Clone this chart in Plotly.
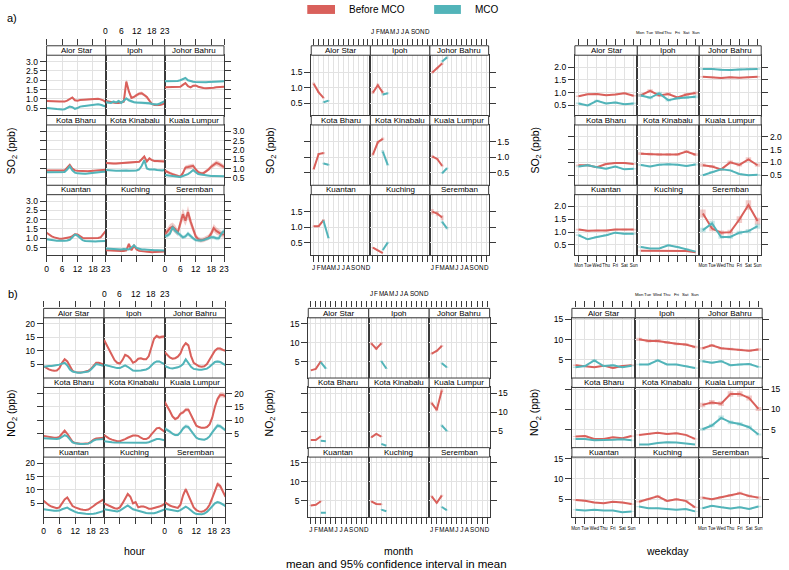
import plotly.graph_objects as go

W, H = 789, 570
RED = "#D9605B"
TEAL = "#52B4B9"
RED_BAND = "rgba(217,96,91,0.32)"
TEAL_BAND = "rgba(82,180,185,0.32)"
FONT = "Liberation Sans, Arial, sans-serif"

CITIES = ["Alor Star", "Ipoh", "Johor Bahru", "Kota Bharu", "Kota Kinabalu",
          "Kuala Lumpur", "Kuantan", "Kuching", "Seremban"]
SERIES = ["Before MCO", "MCO"]
HOURS = list(range(24))
HOUR_TICKS = [0, 6, 12, 18, 23]
MONTHS = list(range(1, 13))
MONTH_LABELS = ["J", "F", "M", "A", "M", "J", "J", "A", "S", "O", "N", "D"]
BEFORE_MONTHS = [1, 2, 3]
MCO_MONTHS = [3, 4]
DAYS = list(range(1, 8))
DAY_LABELS = ["Mon", "Tue", "Wed", "Thu", "Fri", "Sat", "Sun"]

SO2_TICKS_HOUR = [0.5, 1.0, 1.5, 2.0, 2.5, 3.0]
SO2_TICKS_MONTH = [0.5, 1.0, 1.5]
SO2_TICKS_WEEK = [0.5, 1.0, 1.5, 2.0]
NO2_TICKS_HOUR = [5, 10, 15, 20]
NO2_TICKS_OTHER = [5, 10, 15]

# ---------------- SO2 by hour ----------------
SO2_HOUR_BEFORE = {
    "Alor Star": [0.88,0.87,0.87,0.86,0.86,0.86,0.86,0.85,0.9,1.0,1.07,0.92,0.9,0.93,0.94,0.95,0.96,0.96,0.97,0.99,1.0,0.97,0.92,0.82],
    "Ipoh": [0.88,0.85,0.82,0.80,0.78,0.78,0.8,0.85,1.93,1.4,1.05,1.1,1.2,1.28,1.3,1.22,1.1,0.9,0.72,0.66,0.65,0.66,0.7,0.76],
    "Johor Bahru": [1.62,1.62,1.62,1.61,1.61,1.62,1.65,1.75,1.85,1.68,1.62,1.70,1.72,1.65,1.60,1.58,1.57,1.57,1.58,1.60,1.62,1.63,1.64,1.65],
    "Kota Bharu": [0.9,0.9,0.89,0.88,0.88,0.88,0.88,0.9,1.05,1.2,1.0,0.9,0.88,0.87,0.86,0.86,0.86,0.87,0.88,0.89,0.9,0.9,0.92,0.93],
    "Kota Kinabalu": [1.3,1.28,1.28,1.27,1.27,1.28,1.28,1.3,1.3,1.3,1.32,1.33,1.35,1.36,1.5,1.65,1.38,1.55,1.45,1.4,1.4,1.4,1.38,1.38],
    "Kuala Lumpur": [0.88,0.8,0.75,0.7,0.65,0.6,0.56,0.75,1.05,1.08,1.1,1.15,0.95,0.8,0.75,0.75,0.85,0.95,1.1,1.2,1.3,1.25,1.15,1.08],
    "Kuantan": [1.3,1.2,1.1,1.05,1.0,0.98,0.98,1.0,1.02,1.05,1.12,1.22,1.2,1.1,1.02,1.0,1.0,1.0,1.0,1.0,1.02,1.05,1.2,1.4],
    "Kuching": [0.35,0.34,0.33,0.32,0.32,0.31,0.31,0.32,0.35,0.7,0.35,0.6,0.4,0.32,0.3,0.28,0.26,0.25,0.25,0.26,0.27,0.28,0.28,0.29],
    "Seremban": [1.2,1.35,1.55,1.62,1.5,1.3,1.75,2.3,1.95,2.42,1.9,1.45,1.1,0.95,0.9,0.92,0.98,1.05,1.25,1.55,1.4,1.3,1.22,1.2],
}
SO2_HOUR_MCO = {
    "Alor Star": [0.50,0.50,0.49,0.47,0.45,0.43,0.42,0.44,0.50,0.58,0.55,0.46,0.50,0.58,0.60,0.62,0.64,0.66,0.67,0.70,0.70,0.68,0.63,0.58],
    "Ipoh": [0.82,0.8,0.78,0.85,0.8,0.88,0.78,0.9,1.02,0.92,0.85,0.82,0.8,0.8,0.8,0.79,0.78,0.76,0.72,0.7,0.7,0.74,0.8,0.88],
    "Johor Bahru": [1.95,1.95,1.94,1.94,1.95,1.96,2.0,2.08,2.12,2.0,1.95,1.92,1.9,1.89,1.88,1.88,1.89,1.9,1.91,1.92,1.93,1.94,1.95,1.95],
    "Kota Bharu": [0.8,0.8,0.79,0.78,0.78,0.78,0.78,0.82,0.95,1.12,0.9,0.78,0.74,0.72,0.72,0.72,0.73,0.75,0.78,0.8,0.81,0.82,0.83,0.83],
    "Kota Kinabalu": [0.92,0.9,0.88,0.88,0.88,0.88,0.9,0.9,0.9,0.88,0.88,0.88,0.9,0.95,1.15,1.45,1.0,0.95,0.96,0.95,0.92,0.9,0.9,0.92],
    "Kuala Lumpur": [0.65,0.63,0.6,0.58,0.57,0.55,0.55,0.6,0.65,0.7,0.8,0.92,0.8,0.7,0.68,0.65,0.62,0.6,0.6,0.6,0.6,0.58,0.58,0.58],
    "Kuantan": [0.95,0.92,0.9,0.88,0.87,0.86,0.85,0.86,0.88,0.92,1.05,1.2,1.15,1.0,0.9,0.85,0.84,0.83,0.83,0.83,0.84,0.84,0.85,0.85],
    "Kuching": [0.45,0.44,0.43,0.42,0.4,0.4,0.4,0.42,0.42,0.4,0.5,0.62,0.48,0.42,0.4,0.4,0.38,0.36,0.35,0.35,0.35,0.35,0.34,0.34],
    "Seremban": [1.12,1.15,1.25,1.6,1.4,1.3,1.18,1.05,1.1,1.25,1.1,1.0,0.9,0.88,0.88,0.9,0.95,1.0,1.05,1.05,1.0,1.0,1.25,1.4],
}
SO2_HOUR_CI = {  # relative half-width of the 95% CI (before, MCO)
    "Alor Star": (0.04, 0.05), "Ipoh": (0.07, 0.08), "Johor Bahru": (0.02, 0.02),
    "Kota Bharu": (0.04, 0.05), "Kota Kinabalu": (0.04, 0.05), "Kuala Lumpur": (0.11, 0.06),
    "Kuantan": (0.03, 0.04), "Kuching": (0.08, 0.08), "Seremban": (0.14, 0.10),
}

# ---------------- SO2 by month ----------------
SO2_MONTH_BEFORE = {
    "Alor Star": [1.13, 0.85, 0.67], "Ipoh": [0.84, 1.08, 0.84], "Johor Bahru": [1.49, 1.63, 1.78],
    "Kota Bharu": [0.62, 1.11, 1.14], "Kota Kinabalu": [1.09, 1.49, 1.60], "Kuala Lumpur": [1.03, 0.95, 0.73],
    "Kuantan": [1.03, 1.03, 1.23], "Kuching": [0.34, 0.25, 0.16], "Seremban": [1.50, 1.44, 1.31],
}
SO2_MONTH_MCO = {
    "Alor Star": [0.53, 0.58], "Ipoh": [0.78, 0.82], "Johor Bahru": [1.85, 1.98],
    "Kota Bharu": [0.80, 0.76], "Kota Kinabalu": [1.19, 0.76], "Kuala Lumpur": [0.49, 0.65],
    "Kuantan": [1.20, 0.65], "Kuching": [0.26, 0.50], "Seremban": [1.17, 0.96],
}
SO2_MONTH_CI = {
    "Alor Star": (0.03, 0.04), "Ipoh": (0.05, 0.04), "Johor Bahru": (0.02, 0.02),
    "Kota Bharu": (0.03, 0.03), "Kota Kinabalu": (0.03, 0.04), "Kuala Lumpur": (0.04, 0.04),
    "Kuantan": (0.02, 0.03), "Kuching": (0.05, 0.06), "Seremban": (0.06, 0.04),
}

# ---------------- SO2 by weekday ----------------
SO2_WEEK_BEFORE = {
    "Alor Star": [0.86, 0.94, 0.95, 0.90, 0.93, 0.98, 0.88],
    "Ipoh": [0.90, 1.07, 0.89, 0.95, 0.81, 0.93, 0.99],
    "Johor Bahru": [1.62, 1.60, 1.57, 1.60, 1.58, 1.60, 1.62],
    "Kota Bharu": [0.89, 0.89, 0.81, 0.94, 0.98, 0.98, 0.94],
    "Kota Kinabalu": [1.34, 1.32, 1.31, 1.31, 1.31, 1.42, 1.30],
    "Kuala Lumpur": [0.89, 0.84, 0.73, 1.00, 0.90, 1.12, 0.89],
    "Kuantan": [1.10, 1.05, 1.06, 1.06, 1.10, 1.10, 1.10],
    "Kuching": [0.27, 0.27, 0.28, 0.28, 0.27, 0.26, 0.22],
    "Seremban": [1.73, 1.14, 0.98, 1.00, 1.49, 2.06, 1.43],
}
SO2_WEEK_MCO = {
    "Alor Star": [0.58, 0.50, 0.68, 0.58, 0.62, 0.55, 0.58],
    "Ipoh": [0.89, 0.80, 0.97, 0.71, 0.78, 0.81, 0.84],
    "Johor Bahru": [1.92, 1.92, 1.89, 1.88, 1.90, 1.92, 1.92],
    "Kota Bharu": [0.84, 0.89, 0.81, 0.75, 0.84, 0.73, 0.75],
    "Kota Kinabalu": [0.90, 0.84, 0.91, 0.93, 0.91, 0.86, 0.92],
    "Kuala Lumpur": [0.50, 0.63, 0.73, 0.69, 0.55, 0.50, 0.52],
    "Kuantan": [0.88, 0.72, 0.81, 0.88, 0.98, 0.94, 0.94],
    "Kuching": [0.42, 0.36, 0.36, 0.49, 0.42, 0.34, 0.24],
    "Seremban": [1.08, 1.34, 0.81, 0.81, 0.98, 1.04, 1.23],
}
SO2_WEEK_CI = {
    "Alor Star": (0.03, 0.06), "Ipoh": (0.06, 0.07), "Johor Bahru": (0.02, 0.02),
    "Kota Bharu": (0.03, 0.04), "Kota Kinabalu": (0.04, 0.04), "Kuala Lumpur": (0.07, 0.05),
    "Kuantan": (0.03, 0.04), "Kuching": (0.06, 0.06), "Seremban": (0.09, 0.08),
}

# ---------------- NO2 by hour ----------------
NO2_HOUR_BEFORE = {
    "Alor Star": [4.2,3.5,3.0,2.7,2.5,2.6,3.5,5.5,6.8,6.0,4.0,2.5,2.0,1.9,1.9,2.0,2.2,2.5,3.2,4.5,5.5,5.5,5.0,4.8],
    "Ipoh": [14.0,12.0,10.0,8.0,6.5,5.5,5.2,6.5,8.5,8.0,7.0,5.5,6.0,7.0,7.2,6.8,6.8,8.0,11.0,14.5,15.5,15.0,15.2,15.3],
    "Johor Bahru": [9.5,8.5,7.5,7.0,7.2,7.8,9.0,11.5,12.8,12.0,8.0,5.5,4.8,4.2,4.0,4.2,5.0,6.5,8.5,10.0,10.8,10.8,10.3,10.0],
    "Kota Bharu": [4.2,4.0,3.8,3.6,3.5,3.5,3.8,5.0,6.2,5.0,3.5,2.0,1.5,1.3,1.3,1.3,1.3,1.4,2.0,2.8,3.2,3.3,3.4,3.5],
    "Kota Kinabalu": [4.5,3.8,3.2,2.8,2.4,2.2,2.2,2.5,3.0,3.5,4.0,4.3,4.3,4.2,3.5,3.0,3.0,3.5,4.8,6.0,7.0,7.2,6.5,5.8],
    "Kuala Lumpur": [17.0,15.5,13.5,11.5,10.5,11.0,12.5,13.0,14.0,14.0,12.0,9.5,8.0,7.5,7.2,7.2,7.5,8.5,11.0,15.0,18.0,19.5,19.5,19.0],
    "Kuantan": [6.0,5.0,4.3,3.8,3.5,3.2,3.5,5.0,6.5,7.2,5.5,4.0,3.5,3.0,2.8,2.6,2.5,2.7,3.2,4.0,4.8,5.5,6.0,6.6],
    "Kuching": [5.0,4.5,4.0,3.5,3.2,3.0,3.5,5.0,7.0,8.5,7.5,5.0,5.5,3.5,3.8,3.8,3.5,3.0,3.0,3.2,3.5,3.8,4.2,4.8],
    "Seremban": [5.5,4.8,4.2,3.8,3.5,3.3,4.5,8.0,10.3,8.0,5.5,3.5,2.5,2.0,1.9,2.2,3.0,4.5,7.0,10.0,12.2,11.5,9.5,7.5],
}
NO2_HOUR_MCO = {
    "Alor Star": [4.0,4.2,4.3,4.3,4.4,4.5,4.8,5.2,5.5,4.5,3.0,2.2,1.9,1.8,1.8,1.9,2.0,2.2,3.0,4.2,5.0,4.8,4.5,4.3],
    "Ipoh": [4.8,4.5,4.2,4.0,3.7,3.5,3.5,4.0,4.5,4.0,3.2,2.6,2.5,2.5,2.6,2.8,3.0,3.5,4.5,5.5,6.0,6.0,5.5,5.0],
    "Johor Bahru": [4.3,3.8,3.5,3.4,3.5,3.8,4.2,5.0,6.8,5.5,4.0,3.2,3.0,2.9,2.9,3.0,3.3,4.0,5.0,5.8,6.0,5.8,5.2,4.6],
    "Kota Bharu": [3.3,3.2,3.1,3.0,3.0,3.0,3.2,3.8,4.5,4.0,3.0,1.8,1.4,1.2,1.2,1.2,1.2,1.3,1.8,2.5,2.8,2.9,3.0,3.0],
    "Kota Kinabalu": [2.2,2.0,1.9,1.8,1.7,1.7,1.7,1.7,1.7,1.7,1.7,1.6,1.6,1.5,1.5,1.5,1.6,1.8,2.3,2.8,3.0,3.0,2.8,2.6],
    "Kuala Lumpur": [7.0,6.5,5.8,5.0,4.5,4.5,5.5,7.0,7.8,7.5,6.0,4.5,3.5,3.0,2.8,2.8,3.2,4.0,5.5,7.0,8.0,7.8,7.0,6.3],
    "Kuantan": [2.8,2.6,2.4,2.3,2.2,2.2,2.3,2.8,3.2,3.4,2.8,2.2,1.8,1.5,1.3,1.2,1.1,1.0,1.0,1.1,1.3,1.6,1.9,2.2],
    "Kuching": [2.8,2.6,2.4,2.2,2.0,2.0,2.3,3.0,3.8,4.2,3.5,2.8,2.5,2.2,2.0,1.6,1.4,1.3,1.2,1.3,1.6,2.0,2.4,2.7],
    "Seremban": [3.0,2.8,2.5,2.3,2.2,2.1,2.5,3.3,3.8,3.2,2.3,1.5,1.0,0.9,0.9,1.2,1.8,2.8,4.0,5.0,5.5,5.2,4.6,4.0],
}
NO2_HOUR_CI = {
    "Alor Star": (0.06, 0.06), "Ipoh": (0.04, 0.06), "Johor Bahru": (0.04, 0.08),
    "Kota Bharu": (0.05, 0.05), "Kota Kinabalu": (0.05, 0.05), "Kuala Lumpur": (0.05, 0.10),
    "Kuantan": (0.04, 0.05), "Kuching": (0.07, 0.06), "Seremban": (0.07, 0.08),
}

# ---------------- NO2 by month ----------------
NO2_MONTH_BEFORE = {
    "Alor Star": [2.7, 3.1, 5.1], "Ipoh": [9.8, 8.4, 9.8], "Johor Bahru": [7.1, 7.8, 9.1],
    "Kota Bharu": [2.7, 2.7, 3.7], "Kota Kinabalu": [3.4, 4.3, 3.6], "Kuala Lumpur": [12.4, 10.6, 15.7],
    "Kuantan": [3.8, 4.0, 4.9], "Kuching": [4.9, 4.2, 4.1], "Seremban": [6.2, 4.5, 6.4],
}
NO2_MONTH_MCO = {
    "Alor Star": [4.8, 3.2], "Ipoh": [5.1, 3.2], "Johor Bahru": [4.6, 3.5],
    "Kota Bharu": [2.5, 2.4], "Kota Kinabalu": [1.7, 1.2], "Kuala Lumpur": [6.5, 5.1],
    "Kuantan": [1.9, 1.9], "Kuching": [2.7, 2.3], "Seremban": [3.4, 2.6],
}
NO2_MONTH_CI = {c: (0.03, 0.04) for c in CITIES}

# ---------------- NO2 by weekday ----------------
NO2_WEEK_BEFORE = {
    "Alor Star": [3.7, 3.5, 3.2, 3.6, 3.0, 3.5, 3.7],
    "Ipoh": [10.1, 9.7, 9.7, 9.3, 9.0, 8.8, 8.2],
    "Johor Bahru": [7.9, 8.6, 7.9, 7.7, 7.5, 7.3, 7.6],
    "Kota Bharu": [3.3, 3.4, 2.7, 2.7, 3.1, 2.9, 3.4],
    "Kota Kinabalu": [3.7, 3.9, 4.2, 3.9, 4.1, 3.7, 2.7],
    "Kuala Lumpur": [11.1, 11.7, 11.4, 13.8, 13.8, 12.8, 10.1],
    "Kuantan": [4.8, 4.6, 4.2, 4.0, 4.4, 4.2, 3.8],
    "Kuching": [4.4, 5.0, 5.7, 4.6, 5.0, 4.6, 3.0],
    "Seremban": [5.4, 5.0, 5.5, 6.0, 6.5, 5.8, 5.4],
}
NO2_WEEK_MCO = {
    "Alor Star": [3.2, 3.5, 4.9, 3.5, 3.7, 3.2, 3.6],
    "Ipoh": [3.9, 3.9, 4.9, 3.9, 3.9, 3.5, 3.0],
    "Johor Bahru": [4.7, 4.3, 4.7, 3.7, 3.9, 4.0, 3.3],
    "Kota Bharu": [2.7, 2.7, 2.4, 2.4, 2.5, 2.6, 2.4],
    "Kota Kinabalu": [1.3, 1.3, 1.7, 1.9, 1.8, 1.5, 1.3],
    "Kuala Lumpur": [5.1, 6.0, 7.9, 6.8, 6.4, 5.6, 3.8],
    "Kuantan": [2.4, 2.2, 2.4, 2.2, 2.2, 1.8, 2.0],
    "Kuching": [3.2, 2.8, 2.8, 2.6, 2.4, 2.6, 2.0],
    "Seremban": [2.8, 3.4, 3.0, 2.7, 3.0, 2.6, 3.2],
}
NO2_WEEK_CI = {
    "Alor Star": (0.05, 0.06), "Ipoh": (0.04, 0.05), "Johor Bahru": (0.04, 0.06),
    "Kota Bharu": (0.04, 0.04), "Kota Kinabalu": (0.04, 0.05), "Kuala Lumpur": (0.05, 0.07),
    "Kuantan": (0.04, 0.05), "Kuching": (0.05, 0.05), "Seremban": (0.05, 0.06),
}

SO2_TITLE = "SO<sub>2</sub> (ppb)"
NO2_TITLE = "NO<sub>2</sub> (ppb)"

GROUPS = [
    dict(kind="hour", before=SO2_HOUR_BEFORE, mco=SO2_HOUR_MCO, ci=SO2_HOUR_CI,
         yrange=[0.1, 3.35], yticks=SO2_TICKS_HOUR, fmt="{:.1f}",
         edges=[45, 104.7, 164.3, 224], top=43, step=70.1, ytitle=SO2_TITLE, ytx=10),
    dict(kind="month", before=SO2_MONTH_BEFORE, mco=SO2_MONTH_MCO, ci=SO2_MONTH_CI,
         yrange=[0.1, 2.05], yticks=SO2_TICKS_MONTH, fmt="{:.1f}",
         edges=[312, 371.7, 431.7, 491], top=43, step=70.1, ytitle=SO2_TITLE, ytx=272),
    dict(kind="week", before=SO2_WEEK_BEFORE, mco=SO2_WEEK_MCO, ci=SO2_WEEK_CI,
         yrange=[0.11, 2.46], yticks=SO2_TICKS_WEEK, fmt="{:.1f}",
         edges=[578, 641, 703.5, 766], top=43, step=70.1, ytitle=SO2_TITLE, ytx=539),
    dict(kind="hour", before=NO2_HOUR_BEFORE, mco=NO2_HOUR_MCO, ci=NO2_HOUR_CI,
         yrange=[-0.2, 22.3], yticks=NO2_TICKS_HOUR, fmt="{:d}",
         edges=[42, 103, 164, 225.5], top=307, step=70.0, ytitle=NO2_TITLE, ytx=10),
    dict(kind="month", before=NO2_MONTH_BEFORE, mco=NO2_MONTH_MCO, ci=NO2_MONTH_CI,
         yrange=[0.7, 16.5], yticks=NO2_TICKS_OTHER, fmt="{:d}",
         edges=[309, 370, 431, 492], top=307, step=70.0, ytitle=NO2_TITLE, ytx=270),
    dict(kind="week", before=NO2_WEEK_BEFORE, mco=NO2_WEEK_MCO, ci=NO2_WEEK_CI,
         yrange=[0.55, 15.4], yticks=NO2_TICKS_OTHER, fmt="{:d}",
         edges=[575, 639, 703, 767], top=307, step=70.0, ytitle=NO2_TITLE, ytx=538),
]

STRIP_H = 9.5


def fx(px):
    return px / W


def fy(py):
    return 1 - py / H


def xaxis_spec(kind):
    # axis range/ticks, top label font, bottom label font, top label centre above strip
    if kind == "hour":
        return dict(range=[0, 23], tickvals=HOUR_TICKS, ticktext=[str(h) for h in HOUR_TICKS]), 8.5, 8.5, 14.7
    if kind == "month":
        return dict(range=[0.5, 12.5], tickvals=MONTHS, ticktext=MONTH_LABELS), 6.3, 6.3, 14.7
    return dict(range=[0.6, 7.4], tickvals=DAYS, ticktext=DAY_LABELS), 4.3, 4.5, 13.5


fig = go.Figure()
layout = dict(width=W, height=H, margin=dict(l=0, r=0, t=0, b=0), showlegend=False,
              paper_bgcolor="white", plot_bgcolor="white", font=dict(family=FONT, color="black"))
shapes, annots = [], []
GRID = "#E2E2E2"
LINE = "#3A3A3A"

n = 0
extra = 54
for grp in GROUPS:
    kind = grp["kind"]
    xspec, top_fs, bot_fs, lab_off = xaxis_spec(kind)
    edges = grp["edges"]
    for i, city in enumerate(CITIES):
        r, c = divmod(i, 3)
        n += 1
        sfx = "" if n == 1 else str(n)
        strip_top = grp["top"] + r * grp["step"]
        plot_top = strip_top + STRIP_H
        plot_bot = strip_top + grp["step"]
        x0, x1 = edges[c], edges[c + 1]

        layout["xaxis" + sfx] = dict(
            domain=[fx(x0), fx(x1)], anchor="y" + sfx, **xspec,
            showgrid=True, gridcolor=GRID, gridwidth=1, zeroline=False,
            showline=True, mirror=True, linecolor=LINE, linewidth=1,
            ticks="outside" if r == 2 else "", ticklen=6, tickcolor=LINE,
            showticklabels=(r == 2 and c != 1), tickangle=0,
            tickfont=dict(size=bot_fs, family=FONT, color="black"))
        layout["yaxis" + sfx] = dict(
            domain=[fy(plot_bot), fy(plot_top)], anchor="x" + sfx, range=grp["yrange"],
            tickvals=grp["yticks"], ticktext=[grp["fmt"].format(v) for v in grp["yticks"]],
            showgrid=True, gridcolor=GRID, gridwidth=1, zeroline=False,
            showline=True, mirror=True, linecolor=LINE, linewidth=1,
            side="right" if c == 2 else "left",
            ticks="" if c == 1 else "outside", ticklen=6, tickcolor=LINE,
            showticklabels=((c == 0 and r != 1) or (c == 2 and r == 1)),
            tickfont=dict(size=8.5, family=FONT, color="black"))

        if r == 0:
            # tick marks above the strip: helper subplot covering the strip
            extra += 1
            es = str(extra)
            layout["xaxis" + es] = dict(
                domain=[fx(x0), fx(x1)], anchor="y" + es, side="top",
                **xspec, showgrid=False, zeroline=False, showline=False,
                ticks="outside", ticklen=6, tickcolor=LINE, showticklabels=False)
            layout["yaxis" + es] = dict(domain=[fy(plot_top), fy(strip_top)], anchor="x" + es,
                                        range=[0, 1], visible=False, showgrid=False, zeroline=False)
            fig.add_trace(go.Scatter(x=[None], y=[None], xaxis="x" + es, yaxis="y" + es,
                                     mode="lines", hoverinfo="skip", showlegend=False))
            if c == 1:
                # top tick labels of the middle column, placed on that axis' scale
                for tv, tt in zip(xspec["tickvals"], xspec["ticktext"]):
                    annots.append(dict(text=tt, xref="x" + es, yref="paper", x=tv,
                                       y=fy(strip_top - lab_off), showarrow=False,
                                       xanchor="center", yanchor="middle",
                                       font=dict(size=top_fs, family=FONT, color="black")))

        # strip
        shapes.append(dict(type="rect", xref="paper", yref="paper", x0=fx(x0), x1=fx(x1),
                           y0=fy(plot_top), y1=fy(strip_top), fillcolor="white",
                           line=dict(color=LINE, width=1), layer="above"))
        annots.append(dict(text=city, xref="paper", yref="paper", x=fx((x0 + x1) / 2),
                           y=fy(strip_top + STRIP_H / 2), showarrow=False,
                           font=dict(size=8, family=FONT, color="black"),
                           xanchor="center", yanchor="middle"))

        xr, yr = "x" + sfx, "y" + sfx
        for s, (vals, col, band) in enumerate(((grp["before"][city], RED, RED_BAND),
                                               (grp["mco"][city], TEAL, TEAL_BAND))):
            frac = grp["ci"][city][s]
            if kind == "hour":
                xs = HOURS
            elif kind == "month":
                xs = BEFORE_MONTHS if s == 0 else MCO_MONTHS
            else:
                xs = DAYS
            up = [v * (1 + frac) for v in vals]
            lo = [v * (1 - frac) for v in vals]
            if kind == "hour":
                bx = list(xs) + list(xs)[::-1]
                by = up + lo[::-1]
            else:
                hw = 0.3
                bx, by = [], []
                for xv, u, l in zip(xs, up, lo):
                    bx += [xv - hw, xv + hw, xv + hw, xv - hw, xv - hw, None]
                    by += [l, l, u, u, l, None]
            fig.add_trace(go.Scatter(x=bx, y=by, xaxis=xr, yaxis=yr, mode="lines",
                                     fill="toself", fillcolor=band, line=dict(width=0),
                                     hoverinfo="skip", name=SERIES[s]))
            fig.add_trace(go.Scatter(x=xs, y=vals, xaxis=xr, yaxis=yr, mode="lines",
                                     line=dict(color=col, width=2), name=SERIES[s]))

    # y title
    mid = grp["top"] + 1.5 * grp["step"]
    annots.append(dict(text=grp["ytitle"], xref="paper", yref="paper", x=fx(grp["ytx"]),
                       y=fy(mid), showarrow=False, textangle=-90,
                       font=dict(size=10.5, family=FONT, color="black"),
                       xanchor="center", yanchor="middle"))

# panel labels
annots.append(dict(text="a)", xref="paper", yref="paper", x=fx(3), y=fy(15), showarrow=False,
                   xanchor="left", yanchor="middle", font=dict(size=11, family=FONT, color="black")))
annots.append(dict(text="b)", xref="paper", yref="paper", x=fx(4), y=fy(293), showarrow=False,
                   xanchor="left", yanchor="middle", font=dict(size=11, family=FONT, color="black")))

# x titles
for txt, xc in (("hour", 134), ("month", 400), ("weekday", 671)):
    annots.append(dict(text=txt, xref="paper", yref="paper", x=fx(xc), y=fy(551), showarrow=False,
                       xanchor="center", yanchor="middle", font=dict(size=10.5, family=FONT, color="black")))
annots.append(dict(text="mean and 95% confidence interval in mean", xref="paper", yref="paper",
                   x=fx(398), y=fy(564), showarrow=False, xanchor="center", yanchor="middle",
                   font=dict(size=11.5, family=FONT, color="black")))

# legend
for (lx0, lx1, tx, label, col) in ((308, 336, 348, SERIES[0], RED), (436, 463, 475, SERIES[1], TEAL)):
    shapes.append(dict(type="rect", xref="paper", yref="paper", x0=fx(lx0), x1=fx(lx1),
                       y0=fy(11), y1=fy(2), fillcolor=col, line=dict(width=0)))
    annots.append(dict(text=label, xref="paper", yref="paper", x=fx(tx), y=fy(6.5), showarrow=False,
                       xanchor="left", yanchor="middle", font=dict(size=10, family=FONT, color="black")))

layout["shapes"] = shapes
layout["annotations"] = annots
fig.update_layout(**layout)
fig.write_html("out.html", config={"displayModeBar": False},
               post_script="document.body.style.margin='0';document.body.style.overflow='hidden';")
